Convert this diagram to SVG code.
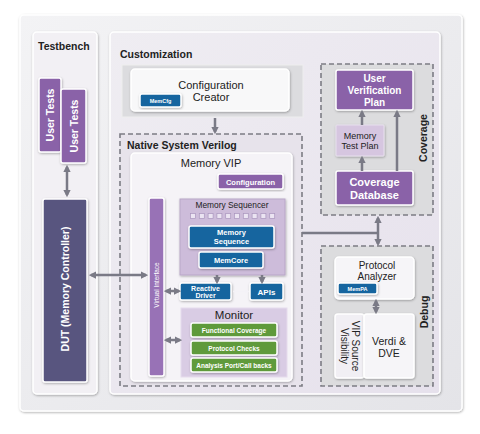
<svg xmlns="http://www.w3.org/2000/svg" width="480" height="434" viewBox="0 0 480 434">
<defs>
<style>
.t{font-family:"Liberation Sans",Arial,sans-serif;}
.b{font-weight:bold;}
.w{fill:#ffffff;}
.dk{fill:#222222;}
.dash{fill:none;stroke:#7c7c84;stroke-width:1.6;stroke-dasharray:5,3;}
.purple{fill:#8a62a8;stroke:#ffffff;stroke-width:1.5;}
.blue{fill:#17659f;stroke:#ffffff;stroke-width:1.5;}
.green{fill:#5e9a3a;stroke:#ffffff;stroke-width:1.5;}
.conn{fill:none;stroke:#7a7a86;stroke-width:2.5;}
</style>
<linearGradient id="gOuter" x1="0" y1="0" x2="1" y2="1">
<stop offset="0" stop-color="#f3f3f5"/><stop offset="1" stop-color="#e4e4e8"/>
</linearGradient>
<linearGradient id="gCust" x1="0" y1="0" x2="1" y2="1">
<stop offset="0" stop-color="#efedf2"/><stop offset="1" stop-color="#e6e1ec"/>
</linearGradient>
<filter id="sh" x="-20%" y="-20%" width="140%" height="140%">
<feDropShadow dx="0.6" dy="1" stdDeviation="1" flood-color="#000" flood-opacity="0.3"/>
</filter>
<marker id="ah" viewBox="0 0 10 10" refX="7" refY="5" markerWidth="3" markerHeight="3" orient="auto-start-reverse">
<path d="M0,0 L10,5 L0,10 z" fill="#7a7a86"/>
</marker>
<marker id="ahw" viewBox="0 0 10 10" refX="7" refY="5" markerWidth="3" markerHeight="3" orient="auto-start-reverse">
<path d="M0,0 L10,5 L0,10 z" fill="#f4f2f7"/>
</marker>
</defs>

<rect width="480" height="434" fill="#ffffff"/>

<g id="outer">
<rect x="20" y="15" width="442" height="396" rx="4" fill="url(#gOuter)" stroke="#ffffff" stroke-width="1.5" filter="url(#sh)"/>
</g>

<g id="testbench">
<rect x="33" y="32" width="64" height="362" rx="4" fill="#f2f0f4" stroke="#ffffff" stroke-width="1.5" filter="url(#sh)"/>
<text class="t b dk" x="38" y="50" font-size="10.5">Testbench</text>
</g>

<g id="customization">
<rect x="110" y="32" width="330" height="362" rx="4" fill="url(#gCust)" stroke="#ffffff" stroke-width="1.5" filter="url(#sh)"/>
<text class="t b dk" x="120" y="58" font-size="10.5">Customization</text>
</g>

<g id="config-creator">
<rect x="122" y="65" width="181" height="52" fill="#dcdcdf" stroke="#eeeeee" stroke-width="1"/>
<rect x="131" y="69" width="158" height="42" rx="4" fill="#f8f8f9" stroke="#ffffff" stroke-width="1.5" filter="url(#sh)"/>
<text class="t dk" x="211" y="89" font-size="11" text-anchor="middle">Configuration</text>
<text class="t dk" x="211" y="101" font-size="11" text-anchor="middle">Creator</text>
</g>
<g id="memcfg">
<rect class="blue" x="140" y="94" width="41" height="13" rx="2" filter="url(#sh)"/>
<text class="t b w" x="160.5" y="102.5" font-size="5.5" text-anchor="middle">MemCfg</text>
</g>

<g id="native-sv">
<rect x="120" y="134" width="182" height="252" fill="#e7e3eb"/>
<rect class="dash" x="120" y="134" width="182" height="252"/>
<text class="t b dk" x="127" y="149" font-size="10.5">Native System Verilog</text>
</g>

<g id="memory-vip">
<rect x="131" y="153" width="161" height="228" rx="4" fill="#f5f3f7" stroke="#ffffff" stroke-width="1.5" filter="url(#sh)"/>
<text class="t dk" x="211" y="167" font-size="11" text-anchor="middle">Memory VIP</text>
</g>

<g id="configuration">
<rect class="purple" x="218" y="174" width="65" height="15" rx="2" filter="url(#sh)"/>
<text class="t b w" x="250.5" y="184.5" font-size="7.5" text-anchor="middle">Configuration</text>
</g>

<g id="virtual-interface">
<rect x="149" y="198" width="15" height="178" rx="2" fill="#9872b6" stroke="#ffffff" stroke-width="1.5" filter="url(#sh)"/>
<text class="t w" transform="translate(159,285) rotate(-90)" font-size="6.5" text-anchor="middle">Virtual Interface</text>
</g>

<g id="memory-sequencer">
<rect x="180" y="199" width="105" height="76" fill="#cdbcda" stroke="#b9a7c8" stroke-width="1" filter="url(#sh)"/>
<text class="t dk" x="232" y="208" font-size="8.4" text-anchor="middle">Memory Sequencer</text>
<g fill="#ebe4f2" stroke="#a995bd" stroke-width="0.7">
<rect x="190.5" y="213.5" width="5" height="5"/>
<rect x="199.3" y="213.5" width="5" height="5"/>
<rect x="208.1" y="213.5" width="5" height="5"/>
<rect x="216.9" y="213.5" width="5" height="5"/>
<rect x="225.7" y="213.5" width="5" height="5"/>
<rect x="234.5" y="213.5" width="5" height="5"/>
<rect x="243.3" y="213.5" width="5" height="5"/>
<rect x="252.1" y="213.5" width="5" height="5"/>
<rect x="260.9" y="213.5" width="5" height="5"/>
<rect x="269.7" y="213.5" width="5" height="5"/>
</g>
</g>

<g id="memory-sequence">
<rect class="blue" x="189" y="226" width="85" height="22" rx="2" filter="url(#sh)"/>
<text class="t b w" x="231.5" y="235" font-size="7.5" text-anchor="middle">Memory</text>
<text class="t b w" x="231.5" y="244" font-size="7.5" text-anchor="middle">Sequence</text>
</g>

<g id="memcore">
<rect class="blue" x="199" y="252" width="64" height="16" rx="2" filter="url(#sh)"/>
<text class="t b w" x="231" y="263" font-size="7.5" text-anchor="middle">MemCore</text>
</g>

<g id="reactive-driver">
<rect class="blue" x="180" y="283" width="51" height="17" rx="2" filter="url(#sh)"/>
<text class="t b w" x="205.5" y="290.5" font-size="7" text-anchor="middle">Reactive</text>
<text class="t b w" x="205.5" y="298" font-size="7" text-anchor="middle">Driver</text>
</g>

<g id="apis">
<rect class="blue" x="250" y="283" width="33" height="17" rx="2" filter="url(#sh)"/>
<text class="t b w" x="266.5" y="294.5" font-size="8" text-anchor="middle">APIs</text>
</g>

<g id="monitor">
<rect x="181" y="308" width="106" height="69" fill="#d9cce4" stroke="#e6dced" stroke-width="1"/>
<text class="t dk" x="234" y="319" font-size="11.5" text-anchor="middle">Monitor</text>
</g>

<g id="functional-coverage">
<rect class="green" x="191" y="323" width="86" height="14" rx="2" filter="url(#sh)"/>
<text class="t b w" x="234" y="332.5" font-size="6.5" text-anchor="middle">Functional Coverage</text>
</g>
<g id="protocol-checks">
<rect class="green" x="191" y="341" width="86" height="14" rx="2" filter="url(#sh)"/>
<text class="t b w" x="234" y="350.5" font-size="6.5" text-anchor="middle">Protocol Checks</text>
</g>
<g id="analysis-port">
<rect class="green" x="191" y="358" width="86" height="14" rx="2" filter="url(#sh)"/>
<text class="t b w" x="234" y="367.5" font-size="6.5" text-anchor="middle">Analysis Port/Call backs</text>
</g>

<g id="user-tests-1">
<rect class="purple" x="39" y="78" width="22" height="74" rx="2" filter="url(#sh)"/>
<text class="t b w" transform="translate(54,115) rotate(-90)" font-size="10.5" text-anchor="middle">User Tests</text>
</g>
<g id="user-tests-2">
<rect class="purple" x="61" y="89" width="25" height="74" rx="2" filter="url(#sh)"/>
<text class="t b w" transform="translate(77.5,126) rotate(-90)" font-size="10.5" text-anchor="middle">User Tests</text>
</g>

<g id="dut">
<rect x="43" y="199" width="44" height="183" rx="2" fill="#58557f" stroke="#ffffff" stroke-width="1.5" filter="url(#sh)"/>
<text class="t b w" transform="translate(69,289) rotate(-90)" font-size="10.5" text-anchor="middle">DUT (Memory Controller)</text>
</g>

<g id="coverage">
<rect x="321" y="64" width="112" height="151" fill="#dcdcde"/>
<rect class="dash" x="321" y="64" width="112" height="151"/>
<text class="t b dk" transform="translate(427,138) rotate(-90)" font-size="10.5" text-anchor="middle">Coverage</text>
</g>
<g id="user-verification-plan">
<rect class="purple" x="336" y="70" width="77" height="40" rx="2" filter="url(#sh)"/>
<text class="t b w" x="374.5" y="82" font-size="10" text-anchor="middle">User</text>
<text class="t b w" x="374.5" y="94" font-size="10" text-anchor="middle">Verification</text>
<text class="t b w" x="374.5" y="106" font-size="10" text-anchor="middle">Plan</text>
</g>
<g id="memory-test-plan">
<rect x="336" y="125" width="48" height="31" rx="1" fill="#d6c6e0" stroke="#e8e0ee" stroke-width="1" filter="url(#sh)"/>
<text class="t dk" x="360" y="138.5" font-size="9" text-anchor="middle">Memory</text>
<text class="t dk" x="360" y="149" font-size="9" text-anchor="middle">Test Plan</text>
</g>
<g id="coverage-database">
<rect class="purple" x="336" y="171" width="77" height="34" rx="2" filter="url(#sh)"/>
<text class="t b w" x="374.5" y="186" font-size="11" text-anchor="middle">Coverage</text>
<text class="t b w" x="374.5" y="199" font-size="11" text-anchor="middle">Database</text>
</g>

<g id="debug">
<rect x="321" y="246" width="112" height="140" fill="#dcdcde"/>
<rect class="dash" x="321" y="246" width="112" height="140"/>
<text class="t b dk" transform="translate(428,312) rotate(-90)" font-size="10.5" text-anchor="middle">Debug</text>
</g>
<g id="protocol-analyzer">
<rect x="335" y="257" width="79" height="42" rx="4" fill="#f6f5f8" stroke="#ffffff" stroke-width="1.5" filter="url(#sh)"/>
<text class="t dk" x="377" y="268.5" font-size="10" text-anchor="middle">Protocol</text>
<text class="t dk" x="377" y="279.5" font-size="10" text-anchor="middle">Analyzer</text>
</g>
<g id="mempa">
<rect class="blue" x="338" y="283" width="39" height="11" rx="2" filter="url(#sh)"/>
<text class="t b w" x="357.5" y="290.5" font-size="5.5" text-anchor="middle">MemPA</text>
</g>
<g id="vip-source-visibility">
<rect x="335" y="314" width="29" height="64" rx="3" fill="#f1eff4" stroke="#ffffff" stroke-width="1.5" filter="url(#sh)"/>
<text class="t dk" transform="translate(352,346) rotate(90)" font-size="10" text-anchor="middle">VIP Source</text>
<text class="t dk" transform="translate(341,346) rotate(90)" font-size="10" text-anchor="middle">Visibility</text>
</g>
<g id="verdi-dve">
<rect x="364" y="314" width="50" height="64" rx="3" fill="#f6f5f8" stroke="#ffffff" stroke-width="1.5" filter="url(#sh)"/>
<text class="t dk" x="389" y="345" font-size="10.5" text-anchor="middle">Verdi &amp;</text>
<text class="t dk" x="389" y="356.5" font-size="10.5" text-anchor="middle">DVE</text>
</g>

<g id="connectors">
<line class="conn" x1="215" y1="118" x2="215" y2="132" marker-end="url(#ah)"/>
<line class="conn" x1="67" y1="167" x2="67" y2="195" marker-start="url(#ah)" marker-end="url(#ah)"/>
<line class="conn" x1="91" y1="275" x2="146" y2="275" marker-start="url(#ah)" marker-end="url(#ah)"/>
<line class="conn" x1="166" y1="291" x2="179" y2="291" marker-start="url(#ah)" marker-end="url(#ah)"/>
<line class="conn" x1="166" y1="340" x2="180" y2="340" marker-start="url(#ah)" marker-end="url(#ah)"/>
<line class="conn" x1="217" y1="275" x2="217" y2="282" marker-end="url(#ah)"/>
<line class="conn" x1="262" y1="275" x2="262" y2="282" marker-end="url(#ah)"/>
<line x1="233" y1="291.5" x2="248" y2="291.5" stroke="#f4f2f7" stroke-width="1.5" marker-end="url(#ahw)"/>
<line class="conn" x1="362" y1="125" x2="362" y2="112" marker-end="url(#ah)"/>
<line class="conn" x1="362" y1="171" x2="362" y2="158" marker-end="url(#ah)"/>
<line class="conn" x1="397" y1="171" x2="397" y2="112" marker-end="url(#ah)"/>
<line class="conn" x1="302" y1="233" x2="378" y2="233"/>
<line class="conn" x1="378" y1="218" x2="378" y2="244" marker-start="url(#ah)" marker-end="url(#ah)"/>
<line class="conn" x1="376" y1="301" x2="376" y2="312" marker-start="url(#ah)" marker-end="url(#ah)"/>
</g>
</svg>
